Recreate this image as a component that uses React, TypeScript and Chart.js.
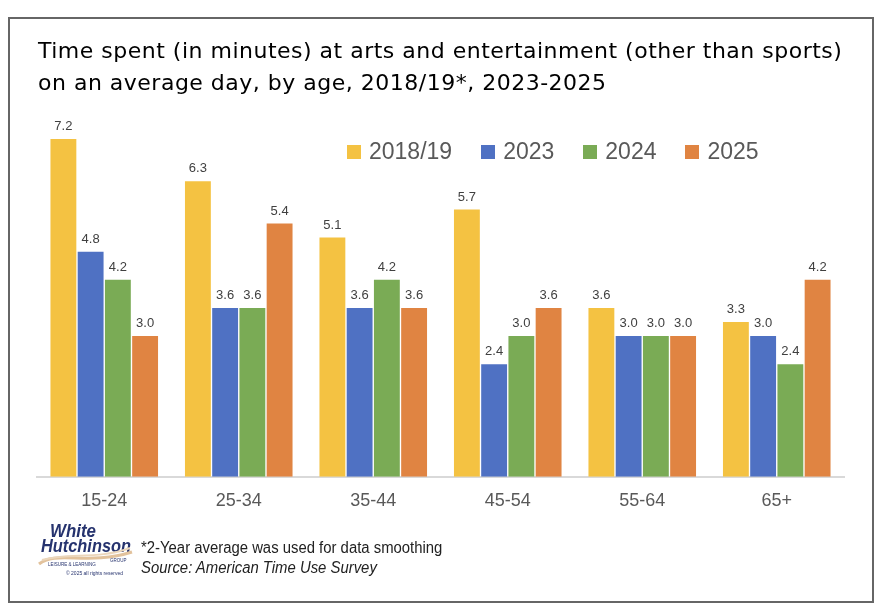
import React, { useEffect, useRef } from "react";
import { Chart, registerables } from "chart.js";

Chart.register(...registerables);

const categories = ["15-24", "25-34", "35-44", "45-54", "55-64", "65+"];
const seriesNames = ["2018/19", "2023", "2024", "2025"];
const values2018 = [7.2, 6.3, 5.1, 5.7, 3.6, 3.3];
const values2023 = [4.8, 3.6, 3.6, 2.4, 3.0, 3.0];
const values2024 = [4.2, 3.6, 4.2, 3.0, 3.0, 2.4];
const values2025 = [3.0, 5.4, 3.6, 3.6, 3.0, 4.2];
const seriesColors = ["#F4C242", "#4F71C3", "#7AAB55", "#E08442"];

const titleLines = [
  "Time spent (in minutes) at arts and entertainment (other than sports)",
  "on an average day, by age, 2018/19*, 2023-2025",
];
const footnote = "*2-Year average was used for data smoothing";
const sourceText = "Source: American Time Use Survey";

const valueLabelPlugin = {
  id: "valueLabels",
  afterDatasetsDraw(chart: any) {
    const ctx = chart.ctx;
    ctx.save();
    ctx.font = "13px 'Liberation Sans', Arial, sans-serif";
    ctx.fillStyle = "#404040";
    ctx.textAlign = "center";
    ctx.textBaseline = "bottom";
    chart.data.datasets.forEach((ds: any, i: number) => {
      const meta = chart.getDatasetMeta(i);
      meta.data.forEach((el: any, j: number) => {
        const v = ds.data[j];
        ctx.fillText(Number(v).toFixed(1), el.x, el.y - 6);
      });
    });
    ctx.restore();
  },
};

export default function App() {
  const canvasRef = useRef<HTMLCanvasElement | null>(null);

  useEffect(() => {
    if (!canvasRef.current) return;
    const allSeries = [values2018, values2023, values2024, values2025];
    const chart = new Chart(canvasRef.current, {
      type: "bar",
      data: {
        labels: categories,
        datasets: allSeries.map((d, i) => ({
          label: seriesNames[i],
          data: d,
          backgroundColor: seriesColors[i],
          categoryPercentage: 0.81,
          barPercentage: 0.95,
        })),
      },
      options: {
        animation: false,
        responsive: false,
        devicePixelRatio: 1,
        layout: { padding: { left: 37, right: 36, top: 101.6, bottom: 89.6 } },
        plugins: {
          legend: { display: false },
          tooltip: { enabled: false },
          title: { display: false },
        },
        scales: {
          x: {
            grid: { display: false, drawTicks: false },
            border: { display: true, color: "#D9D9D9", width: 2 },
            ticks: {
              padding: 13,
              color: "#595959",
              font: { size: 18, family: "'Liberation Sans', sans-serif" },
            },
          },
          y: { display: false, min: 0, max: 8 },
        },
      },
      plugins: [valueLabelPlugin],
    });
    return () => chart.destroy();
  }, []);

  return (
    <div
      style={{
        position: "fixed",
        left: 0,
        top: 0,
        width: 880,
        height: 614,
        background: "#fff",
        overflow: "hidden",
      }}
    >
      <div
        style={{
          position: "absolute",
          left: 8,
          top: 17,
          width: 862,
          height: 582,
          border: "2px solid #666",
        }}
      />
      <canvas ref={canvasRef} width={880} height={614} style={{ position: "absolute", left: 0, top: 0 }} />
      <div
        style={{
          position: "absolute",
          left: 38,
          top: 35,
          fontFamily: "'DejaVu Sans', sans-serif",
          fontSize: 22,
          letterSpacing: "0.5px",
          lineHeight: "32px",
          color: "#000",
          whiteSpace: "nowrap",
        }}
      >
        {titleLines.map((t) => (
          <div key={t}>{t}</div>
        ))}
      </div>
      <div
        style={{
          position: "absolute",
          left: 347,
          top: 138,
          display: "flex",
          alignItems: "center",
          fontFamily: "'Liberation Sans', sans-serif",
          fontSize: 23,
          color: "#595959",
          whiteSpace: "nowrap",
        }}
      >
        {seriesNames.map((n, i) => (
          <div key={n} style={{ display: "flex", alignItems: "center", marginRight: 29 }}>
            <span style={{ display: "inline-block", width: 14, height: 14, background: seriesColors[i], marginRight: 8 }} />
            <span>{n}</span>
          </div>
        ))}
      </div>
      <div style={{ position: "absolute", left: 38, top: 520, width: 96, height: 58 }}>
        <svg width={96} height={58} viewBox="0 0 96 58">
          <text x={12} y={17} fontFamily="'Liberation Sans', sans-serif" fontStyle="italic" fontWeight="bold" fontSize={18} fill="#26336E" textLength={46} lengthAdjust="spacingAndGlyphs">
            White
          </text>
          <text x={3} y={32} fontFamily="'Liberation Sans', sans-serif" fontStyle="italic" fontWeight="bold" fontSize={18} fill="#26336E" textLength={90} lengthAdjust="spacingAndGlyphs">
            Hutchinson
          </text>
          <path d="M1 44 C 18 30, 50 46, 94 32" stroke="#E2C29C" strokeWidth={3} fill="none" />
          <path d="M4 40 C 30 32, 60 40, 92 28" stroke="#EBD6BB" strokeWidth={2} fill="none" />
          <text x={10} y={46} fontFamily="sans-serif" fontSize={4.5} fill="#26336E">LEISURE &amp; LEARNING</text>
          <text x={72} y={42} fontFamily="sans-serif" fontSize={4.5} fill="#26336E">GROUP</text>
          <text x={28} y={55} fontFamily="sans-serif" fontSize={5} fill="#26336E">© 2025 all rights reserved</text>
        </svg>
      </div>
      <div
        style={{
          position: "absolute",
          left: 141,
          top: 538,
          fontFamily: "'Liberation Sans', sans-serif",
          fontSize: 16,
          lineHeight: "20px",
          color: "#222",
          whiteSpace: "nowrap",
          transform: "scaleX(0.93)",
          transformOrigin: "left top",
        }}
      >
        <div>{footnote}</div>
        <div style={{ fontStyle: "italic" }}>{sourceText}</div>
      </div>
    </div>
  );
}
